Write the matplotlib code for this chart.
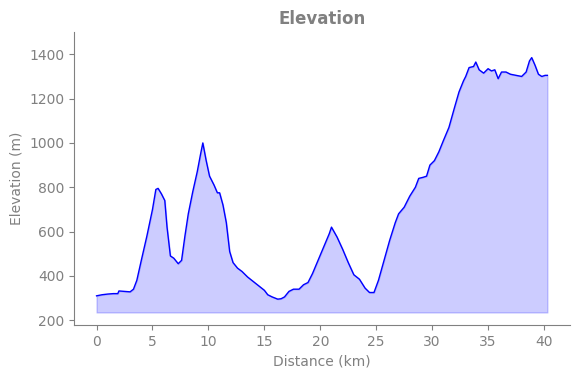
import matplotlib
matplotlib.use("Agg")
import matplotlib.pyplot as plt

# elevation profile
distance_km = [0, 0.5, 1, 1.5, 1.9, 2.0, 2.5, 3.0, 3.3, 3.6, 4.0, 4.5, 5.0, 5.3, 5.5,
               5.8, 6.1, 6.3, 6.6, 6.9, 7.3, 7.6, 7.9, 8.2, 8.6, 9.0, 9.3, 9.5, 9.8,
               10.1, 10.5, 10.8, 11.0, 11.3, 11.6, 11.9, 12.2, 12.6, 13.0, 13.5, 14.0,
               14.5, 15.0, 15.3, 15.7, 16.2, 16.5, 16.8, 17.2, 17.6, 18.1, 18.5, 18.9,
               19.3, 19.8, 20.3, 20.8, 21.0, 21.5, 22.0, 22.5, 23.0, 23.5, 24.0, 24.4,
               24.8, 25.2, 25.7, 26.2, 26.7, 27.0, 27.5, 28.0, 28.5, 28.8, 29.2, 29.5,
               29.8, 30.2, 30.6, 31.0, 31.5, 32.0, 32.4, 32.8, 33.0, 33.3, 33.7, 33.9,
               34.2, 34.6, 35.0, 35.3, 35.6, 35.9, 36.2, 36.6, 37.0, 37.5, 38.0, 38.4,
               38.7, 38.9, 39.2, 39.5, 39.8, 40.1, 40.3]
elevation_m = [310, 315, 318, 320, 320, 332, 330, 328, 340, 380, 470, 580, 700, 790, 795,
               770, 740, 620, 490, 480, 455, 470, 580, 680, 780, 870, 950, 1000, 920,
               850, 810, 775, 775, 720, 640, 510, 460, 435, 420, 395, 375,
               355, 335, 315, 305, 295, 297, 305, 330, 340, 340, 360, 370,
               410, 470, 530, 590, 620, 575, 520, 460, 405, 385, 345, 325,
               325, 380, 470, 560, 640, 680, 710, 760, 800, 840, 845, 850,
               900, 920, 960, 1010, 1070, 1160, 1230, 1280, 1300, 1340, 1345, 1365,
               1330, 1315, 1335, 1325, 1330, 1290, 1320, 1320, 1310, 1305, 1300, 1320,
               1370, 1385, 1350, 1310, 1300, 1305, 1305]

grey = "#808080"
plt.rcParams['text.color'] = grey
plt.rcParams['axes.labelcolor'] = grey
plt.rcParams['xtick.color'] = grey
plt.rcParams['ytick.color'] = grey
plt.rcParams['axes.edgecolor'] = grey

fig = plt.figure(figsize=(5.8, 3.78), dpi=100)
ax = fig.add_axes([0.1276, 0.14, 0.855, 0.775])

base = min(elevation_m) - 60
ax.fill_between(distance_km, elevation_m, base, color="blue", alpha=0.2)
ax.plot(distance_km, elevation_m, color="blue", linewidth=1)

ax.set_ylim(178, 1500)
ax.set_title("Elevation", fontweight="bold", fontsize=12, color=grey)
ax.set_xlabel("Distance (km)")
ax.set_ylabel("Elevation (m)")
ax.spines['top'].set_visible(False)
ax.spines['right'].set_visible(False)

plt.savefig("out.png", dpi=100)
